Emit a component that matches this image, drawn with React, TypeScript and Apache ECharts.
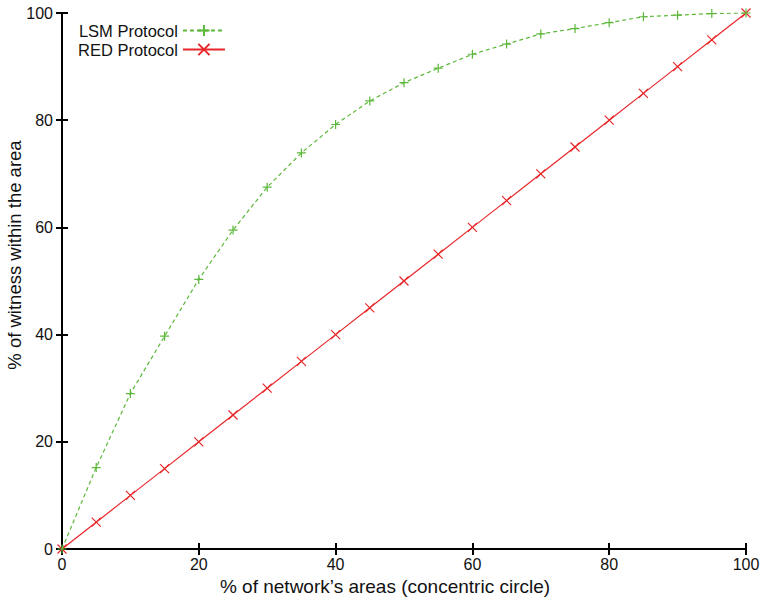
import React, { useEffect, useRef } from "react";
import * as echarts from "echarts";

const xValues = [0, 5, 10, 15, 20, 25, 30, 35, 40, 45, 50, 55, 60, 65, 70, 75, 80, 85, 90, 95, 100];
const lsmValues = [0, 15.2, 29.0, 39.7, 50.3, 59.5, 67.5, 73.9, 79.2, 83.6, 87.0, 89.7, 92.3, 94.2, 96.1, 97.1, 98.2, 99.3, 99.6, 99.9, 100];
const redValues = [0, 5, 10, 15, 20, 25, 30, 35, 40, 45, 50, 55, 60, 65, 70, 75, 80, 85, 90, 95, 100];
const seriesNames = ["LSM Protocol", "RED Protocol"];
const xAxisTitle = "% of network\u2019s areas (concentric circle)";
const yAxisTitle = "% of witness within the area";

const GREEN = "#5cb83a";
const RED = "#e8262a";
const FONT = "Liberation Sans, Arial, Helvetica, sans-serif";

export default function App() {
  const ref = useRef<HTMLDivElement>(null);
  useEffect(() => {
    if (!ref.current) return;
    const chart = echarts.init(ref.current, undefined, { renderer: "svg" });
    const axisCommon = {
      type: "value" as const,
      min: 0,
      max: 100,
      interval: 20,
      axisLine: { show: true, lineStyle: { color: "#000", width: 2 } },
      axisTick: { show: true, inside: true, length: 6, lineStyle: { color: "#000", width: 2 } },
      splitLine: { show: false },
    };
    chart.setOption({
      animation: false,
      backgroundColor: "#fff",
      textStyle: { fontFamily: FONT },
      grid: { left: 62, top: 13, right: 18, bottom: 50, containLabel: false, outerBoundsMode: "none" },
      legend: {
        orient: "vertical",
        left: 73,
        top: 17,
        align: "right",
        itemWidth: 42,
        itemHeight: 14,
        itemGap: 2,
        textStyle: { fontFamily: FONT, fontSize: 16.5, color: "#111" },
        data: seriesNames,
      },
      xAxis: [
        {
          ...axisCommon,
          position: "bottom",
          name: xAxisTitle,
          nameLocation: "middle",
          nameGap: 28,
          nameMoveOverlap: false,
          nameTextStyle: { fontFamily: FONT, fontSize: 19, color: "#111", verticalAlign: "top", padding: [0, 38, 0, 0] },
          axisLabel: { margin: 7, fontFamily: FONT, fontSize: 16, color: "#111" },
        },
        {
          ...axisCommon,
          position: "top",
          axisLabel: { show: false },
        },
      ],
      yAxis: [
        {
          ...axisCommon,
          position: "left",
          name: yAxisTitle,
          nameLocation: "middle",
          nameGap: 38,
          nameMoveOverlap: false,
          nameTextStyle: { fontFamily: FONT, fontSize: 18.5, color: "#111", verticalAlign: "bottom", padding: [0, 0, 0, 52] },
          axisLabel: { margin: 9, fontFamily: FONT, fontSize: 16, color: "#111" },
        },
        {
          ...axisCommon,
          position: "right",
          axisLabel: { show: false },
        },
      ],
      series: [
        {
          name: seriesNames[0],
          type: "line",
          data: xValues.map((x, i) => [x, lsmValues[i]]),
          color: GREEN,
          symbol: "path://M0,5L10,5M5,0L5,10",
          symbolSize: 9,
          showAllSymbol: true,
          itemStyle: { color: GREEN, borderColor: GREEN, borderWidth: 1.2 },
          lineStyle: { color: GREEN, width: 1.2, type: [4, 3] },
          z: 3,
        },
        {
          name: seriesNames[1],
          type: "line",
          data: xValues.map((x, i) => [x, redValues[i]]),
          color: RED,
          symbol: "path://M0,0L10,10M10,0L0,10",
          symbolSize: 9,
          showAllSymbol: true,
          itemStyle: { color: RED, borderColor: RED, borderWidth: 1.2 },
          lineStyle: { color: RED, width: 1.2 },
          z: 2,
        },
      ],
    });
    return () => chart.dispose();
  }, []);
  return <div ref={ref} style={{ width: 764, height: 599, position: "absolute", left: 0, top: 0 }} />;
}
